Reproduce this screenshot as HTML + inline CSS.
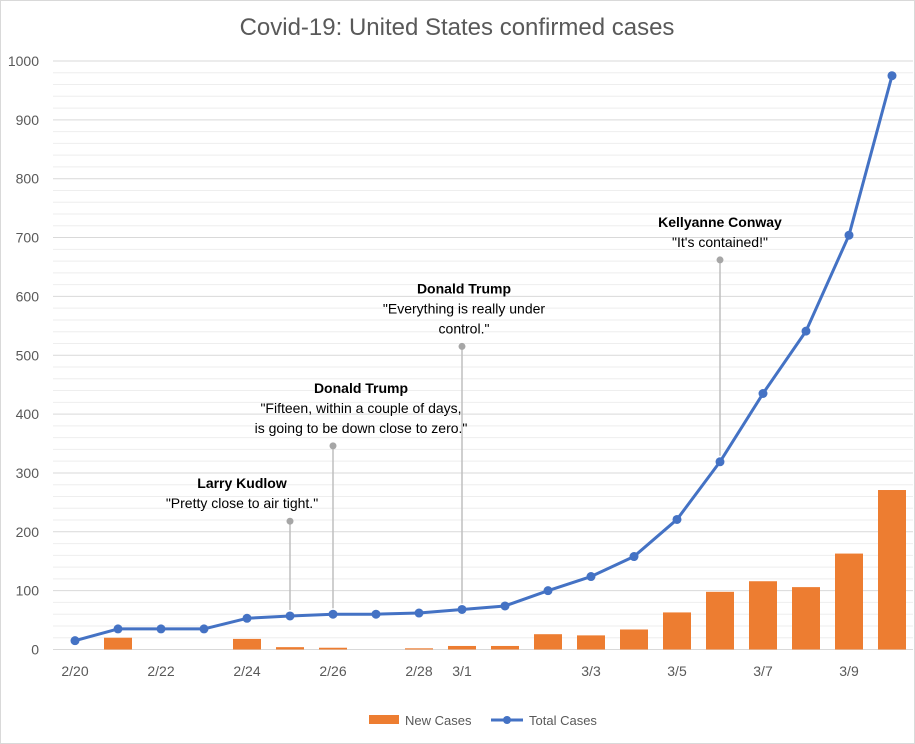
<!DOCTYPE html>
<html><head><meta charset="utf-8"><style>
body{margin:0;background:#fff;}
#wrap{width:915px;height:744px;position:relative;overflow:hidden;font-family:"Liberation Sans",sans-serif;}
svg text{font-family:"Liberation Sans",sans-serif;}
</style></head><body>
<div id="wrap">
<svg id="chart" width="915" height="744">
<rect x="0.5" y="0.5" width="914" height="743" fill="#fff" stroke="#d9d9d9"/>
<text x="457" y="35" text-anchor="middle" font-size="24" fill="#595959">Covid-19: United States confirmed cases</text>
<g id="grid"></g><g id="yticks"></g><g id="xticks"></g><g id="bars"></g><g id="annots"></g><g id="line"></g>
<g>
<rect x="369" y="715" width="30" height="9" fill="#ed7d31"/>
<text x="405" y="725" font-size="13" fill="#595959">New Cases</text>
<line x1="491" y1="720" x2="523" y2="720" stroke="#4472c4" stroke-width="3"/>
<circle cx="507" cy="720" r="4" fill="#4472c4"/>
<text x="529" y="725" font-size="13" fill="#595959">Total Cases</text>
</g>
</svg></div>
<script>
const categories=["2/20","2/21","2/22","2/23","2/24","2/25","2/26","2/27","2/28","3/1","3/2","3/3","3/4","3/5","3/6","3/7","3/8","3/9","3/10","3/11"];
const tickLabels=["2/20","","2/22","","2/24","","2/26","","2/28","3/1","","","3/3","","3/5","","3/7","","3/9",""];
const totalCases=[15,35,35,35,53,57,60,60,62,68,74,100,124,158,221,319,435,541,704,975];
const newCases=[0,20,0,0,18,4,3,0,2,6,6,26,24,34,63,98,116,106,163,271];
const yTicks=[0,100,200,300,400,500,600,700,800,900,1000];
const annotIdx=[5,6,9,15];
const annotTop=[218,346,515,662];
const annotName=["Larry Kudlow","Donald Trump","Donald Trump","Kellyanne Conway"];
const annotQuote=[["\"Pretty close to air tight.\""],["\"Fifteen, within a couple of days,","is going to be down close to zero.\""],["\"Everything is really under","control.\""],["\"It's contained!\""]];

const NS="http://www.w3.org/2000/svg";
const x0=75,dx=43,y0=649.5,yk=0.5885;
const textShift=[-48,28,2,0];
function X(i){return i<9?x0+i*dx:(i<19?x0+(i-1)*dx+ (i>=9?0:0):892);}
function Xp(i){if(i<=8)return x0+i*dx;if(i===19)return 892;return x0+i*dx- (i>=9?0:0);}
function Xc(i){return i===19?892:x0+i*(817/19);}
function Y(v){return y0-v*yk;}
function mk(tag,attrs,parent){const e=document.createElementNS(NS,tag);for(const k in attrs)e.setAttribute(k,attrs[k]);parent.appendChild(e);return e;}
const grid=document.getElementById('grid');
for(let v=0;v<=1000;v+=20){
 const l=mk('line',{x1:53,x2:913,y1:Y(v),y2:Y(v),stroke:v%100===0?'#d9d9d9':'#eeeeee','stroke-width':1},grid);
 
 
}
const yt=document.getElementById('yticks');
yTicks.forEach(v=>{const t=mk('text',{x:39,y:Y(v)+5,'text-anchor':'end','font-size':14,fill:'#595959'},yt);t.textContent=v;
 
 });
function PX(i){return Xc(i);}
const xt=document.getElementById('xticks');
tickLabels.forEach((s,i)=>{if(!s)return;const t=mk('text',{x:PX(i),y:676,'text-anchor':'middle','font-size':14,fill:'#595959'},xt);t.textContent=s;
 
 });
const bars=document.getElementById('bars');
newCases.forEach((v,i)=>{if(v<=0)return;const r=mk('rect',{x:PX(i)-14,y:Y(v),width:28,height:v*yk,fill:'#ed7d31'},bars);
 
 });
const an=document.getElementById('annots');
annotIdx.forEach((idx,k)=>{
 const x=PX(idx),top=Y(annotTop[k]);
 const l=mk('line',{x1:x,x2:x,y1:top,y2:Y(totalCases[idx])-6,stroke:'#bfbfbf','stroke-width':1.5},an);
 
 
 const c=mk('circle',{cx:x,cy:top,r:3.5,fill:'#a6a6a6'},an);
 
 
 const lines=annotQuote[k];
 const cx=x+textShift[k];
 const lastBase=top-13;
 const nameBase=lastBase-lines.length*20;
 const n=mk('text',{x:cx,y:nameBase,'text-anchor':'middle','font-size':14,'font-weight':'bold',fill:'#000'},an);
 n.textContent=annotName[k];
 
 
 lines.forEach((s,j)=>{const q=mk('text',{x:cx,y:nameBase+20+j*20,'text-anchor':'middle','font-size':14,fill:'#000'},an);q.textContent=s;
  
  });
});
const ln=document.getElementById('line');
const p=mk('polyline',{points:totalCases.map((v,i)=>PX(i)+','+Y(v)).join(' '),fill:'none',stroke:'#4472c4','stroke-width':3,'stroke-linejoin':'round'},ln);


totalCases.forEach((v,i)=>{const c=mk('circle',{cx:PX(i),cy:Y(v),r:4.5,fill:'#4472c4'},ln);
 
 });
</script>
</body></html>
